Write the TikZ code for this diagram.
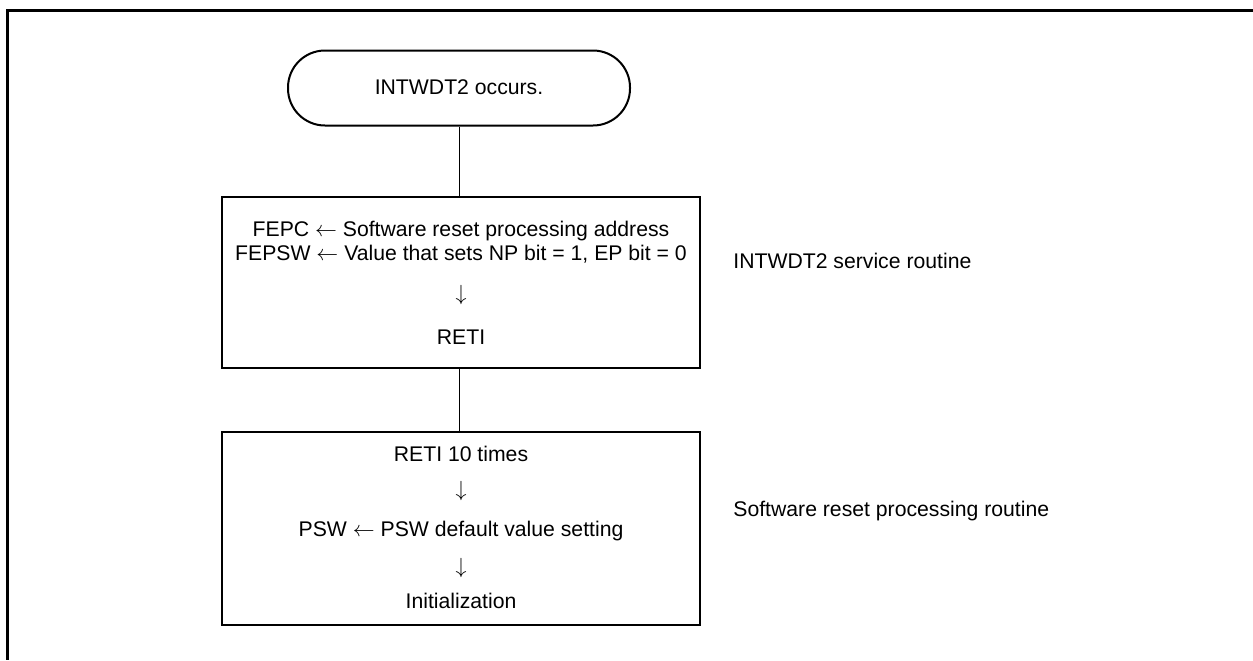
\documentclass[tikz,border=0pt]{standalone}
\usepackage{fontspec}
\setmainfont{Liberation Sans}
\usetikzlibrary{positioning}

\begin{document}
\begin{tikzpicture}[
    x=0.5pt, y=-0.5pt,
    every node/.style={font=\fontsize{10.6}{12.7}\selectfont, inner sep=0pt},
    terminal/.style={rectangle, draw, line width=1pt, rounded corners=18.5pt, minimum width=171pt, minimum height=37.5pt},
    procbox/.style={rectangle, draw, line width=1pt, minimum width=239pt},
    link/.style={line width=0.5pt},
    txt/.style={anchor=base},
    side/.style={anchor=base west}
]
\useasboundingbox (0,0) rectangle (1253,660);

% Frame - only top and left edges
\draw[line width=1.5pt] (1253,10) -- (7,10) -- (7,660);

% Start terminal
\node[terminal] (start) at (459,88) {};
\node[txt] (starttxt) at (459,94) {INTWDT2 occurs.};

% Service routine box
\node[procbox, minimum height=85.5pt] (service) at (461,282.5) {};
\node[txt] (fepc) at (461,236) {FEPC $\leftarrow$ Software reset processing address};
\node[txt] (fepsw) at (461,260) {FEPSW $\leftarrow$ Value that sets NP bit = 1, EP bit = 0};
\node[txt] (down1) at (461,300) {$\downarrow$};
\node[txt] (reti) at (461,344) {RETI};

% Software reset box
\node[procbox, minimum height=96.5pt] (reset) at (461,528.5) {};
\node[txt] (reti10) at (461,461) {RETI 10 times};
\node[txt] (down2) at (461,496) {$\downarrow$};
\node[txt] (psw) at (461,536) {PSW $\leftarrow$ PSW default value setting};
\node[txt] (down3) at (461,573) {$\downarrow$};
\node[txt] (init) at (461,608) {Initialization};

% Labels on the right
\node[side] (servicelbl) at (733,268) {INTWDT2 service routine};
\node[side] (resetlbl) at (733,516) {Software reset processing routine};

% Connectors
\draw[link] (start.south) -- (start.south |- service.north);
\draw[link] (start.south |- service.south) -- (start.south |- reset.north);

\end{tikzpicture}
\end{document}
